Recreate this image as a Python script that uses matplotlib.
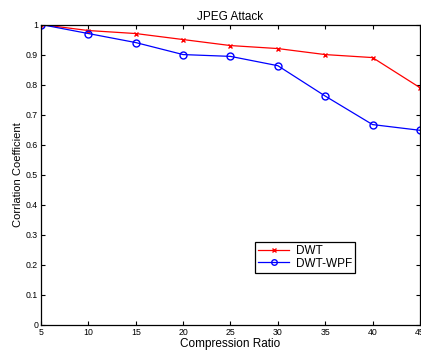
import matplotlib
matplotlib.use('Agg')
import matplotlib.pyplot as plt

ratios = [5, 10, 15, 20, 25, 30, 35, 40, 45]
dwt = [1.0, 0.98, 0.97, 0.95, 0.93, 0.92, 0.90, 0.89, 0.79]
dwt_wpf = [1.0, 0.97, 0.94, 0.90, 0.894, 0.863, 0.762, 0.667, 0.648]

plt.rcParams['font.family'] = ['Liberation Sans', 'DejaVu Sans']

fig = plt.figure(figsize=(4.21, 3.56), dpi=100)
ax = fig.add_axes([0.0974, 0.0871, 0.9, 0.844])

ax.plot(ratios, dwt, color='red', marker='x', markersize=3, lw=0.9, label='DWT')
ax.plot(ratios, dwt_wpf, color='blue', marker='o', markersize=5, mfc='none', lw=0.9, label='DWT-WPF')

ax.set_xlim(5, 45)
ax.set_ylim(0, 1)
ax.set_xticks(ratios)
ax.set_yticks([i / 10 for i in range(11)])
ax.set_yticklabels(['0', '0.1', '0.2', '0.3', '0.4', '0.5', '0.6', '0.7', '0.8', '0.9', '1'])
ax.tick_params(direction='in', top=True, right=True, labelsize=6.3, length=3, pad=2)
for s in ax.spines.values():
    s.set_linewidth(0.9)

ax.set_title('JPEG Attack', fontsize=8.5, pad=3)
ax.set_xlabel('Compression Ratio', fontsize=8.5, labelpad=1)
ax.set_ylabel('Corrlation Coefficient', fontsize=8, labelpad=2)

leg = ax.legend(loc='lower left', bbox_to_anchor=(0.55, 0.155), fontsize=8.5,
                fancybox=False, edgecolor='black', framealpha=1, markerscale=0.8,
                handlelength=2.6, borderpad=0.25, labelspacing=0.05, handletextpad=0.6)
leg.get_frame().set_linewidth(0.9)

fig.savefig('out.png', dpi=100)
